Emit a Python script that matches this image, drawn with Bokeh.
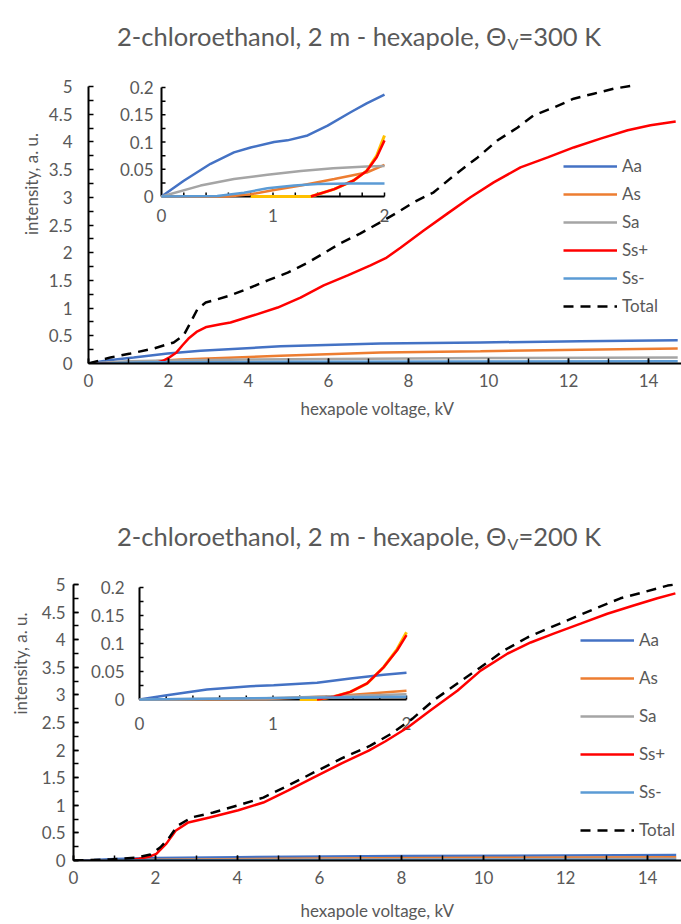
import math
from bokeh.plotting import figure
from bokeh.models import (Range1d, Legend, LegendItem, SingleIntervalTicker, FixedTicker,
                          NumeralTickFormatter, LinearAxis)
from bokeh.layouts import column
from bokeh.embed import file_html
from bokeh.resources import INLINE
from bokeh.core.properties import value

FONT = "Lato"
GRAY = "#595959"
SERIES = ["Aa", "As", "Sa", "Ss+", "Ss-", "Total"]
COLORS = ["#4472C4", "#ED7D31", "#A5A5A5", "#FF0000", "#5B9BD5", "#000000"]
GOLD = "#FFC000"

# ---------------- 300 K : main chart ----------------
top_x_Aa = [0, 0.5, 1.13, 1.98, 2.8, 4.8, 7.3, 9.8, 12.3, 14.73]
top_y_Aa = [0, 0.06, 0.11, 0.18, 0.23, 0.31, 0.36, 0.38, 0.40, 0.42]
top_x_As = [0, 0.6, 1.0, 1.5, 2.0, 2.3, 4.8, 7.3, 9.8, 12.3, 14.73]
top_y_As = [0, 0, 0.012, 0.03, 0.058, 0.07, 0.14, 0.20, 0.22, 0.25, 0.27]
top_x_Sa = [0, 1, 2, 4, 7, 10, 14.73]
top_y_Sa = [0, 0.04, 0.056, 0.07, 0.085, 0.10, 0.11]
top_x_Ssp = [0, 1.35, 1.7, 1.85, 2.0, 2.2, 2.35, 2.5, 2.7, 2.95, 3.3, 3.55, 4.13, 4.73,
             5.30, 5.88, 6.48, 7.05, 7.43, 7.80, 8.38, 8.98, 9.55, 10.13, 10.80, 11.48,
             12.13, 12.80, 13.48, 14.05, 14.68]
top_y_Ssp = [0, 0, 0.015, 0.045, 0.10, 0.20, 0.33, 0.45, 0.57, 0.66, 0.71, 0.74, 0.87, 1.01,
             1.19, 1.41, 1.59, 1.77, 1.90, 2.09, 2.40, 2.71, 3.00, 3.27, 3.54, 3.72,
             3.90, 4.06, 4.21, 4.30, 4.37]
top_x_Ssm = [0, 0.5, 0.75, 1.0, 1.2, 1.5, 2.0, 5.0, 10.0, 14.73]
top_y_Ssm = [0, 0.001, 0.007, 0.015, 0.02, 0.023, 0.024, 0.03, 0.035, 0.04]
top_x_Total = [0, 0.55, 1.05, 1.63, 2.13, 2.38, 2.55, 2.73, 2.93, 3.13, 3.55, 3.98, 4.48,
               4.98, 5.48, 5.88, 6.30, 6.80, 7.30, 7.73, 8.13, 8.63, 9.13, 9.73, 10.23,
               10.73, 11.13, 11.63, 12.13, 12.63, 13.13, 13.63]
top_y_Total = [0, 0.11, 0.18, 0.27, 0.38, 0.51, 0.74, 0.99, 1.10, 1.14, 1.23, 1.35, 1.50,
               1.64, 1.82, 1.99, 2.17, 2.35, 2.55, 2.73, 2.91, 3.09, 3.39, 3.72, 4.03,
               4.26, 4.48, 4.62, 4.78, 4.87, 4.96, 5.02]

# ---------------- 300 K : inset (0-2 kV) ----------------
ti_x_Aa = [0, 0.2, 0.44, 0.65, 0.80, 1.01, 1.13, 1.31, 1.49, 1.70, 1.84, 2.0]
ti_y_Aa = [0, 0.029, 0.060, 0.081, 0.090, 0.100, 0.103, 0.112, 0.130, 0.155, 0.171, 0.187]
ti_x_As = [0, 0.59, 0.80, 1.01, 1.25, 1.55, 1.84, 2.0]
ti_y_As = [0, 0, 0.004, 0.012, 0.020, 0.032, 0.044, 0.058]
ti_x_Sa = [0, 0.35, 0.65, 0.95, 1.25, 1.54, 1.84, 2.0]
ti_y_Sa = [0, 0.020, 0.032, 0.040, 0.047, 0.052, 0.055, 0.056]
ti_x_Ssp = [1.34, 1.55, 1.72, 1.84, 1.93, 2.0]
ti_y_Ssp = [0, 0.0135, 0.029, 0.047, 0.072, 0.103]
ti_x_Ssm = [0, 0.5, 0.74, 0.95, 1.19, 1.40, 1.70, 2.0]
ti_y_Ssm = [0, 0.001, 0.007, 0.015, 0.020, 0.023, 0.024, 0.024]
ti_x_gold = [0.8, 1.34, 1.55, 1.72, 1.84, 1.93, 2.0]
ti_y_gold = [0, 0, 0.0135, 0.029, 0.047, 0.075, 0.112]

# ---------------- 200 K : main chart ----------------
bot_x_Aa = [0, 0.5, 1.0, 2.0, 4.0, 8.0, 14.7]
bot_y_Aa = [0, 0.01, 0.025, 0.045, 0.06, 0.08, 0.10]
bot_x_As = [0, 1.0, 2.0, 5.0, 10.0, 14.7]
bot_y_As = [0, 0.001, 0.0155, 0.03, 0.05, 0.06]
bot_x_Sa = [0, 2.0, 5.0, 10.0, 14.7]
bot_y_Sa = [0, 0.0095, 0.015, 0.022, 0.03]
bot_x_Ssp = [0, 1.27, 1.6, 1.85, 2.02, 2.27, 2.49, 2.80, 3.32, 4.02, 4.63, 5.24, 5.85, 6.54,
             7.20, 7.61, 8.15, 8.71, 9.37, 9.93, 10.59, 11.15, 11.71, 12.37, 13.02, 13.66,
             14.24, 14.68]
bot_y_Ssp = [0, 0, 0.03, 0.07, 0.12, 0.31, 0.54, 0.69, 0.78, 0.91, 1.05, 1.27, 1.50, 1.76,
             1.99, 2.16, 2.41, 2.72, 3.08, 3.44, 3.75, 3.95, 4.11, 4.29, 4.47, 4.62,
             4.75, 4.84]
bot_x_Ssm = [0, 2.0, 14.7]
bot_y_Ssm = [0, 0.005, 0.01]
bot_x_Total = [0, 0.90, 1.51, 1.88, 2.12, 2.32, 2.54, 2.88, 3.41, 4.02, 4.63, 5.24, 5.85,
               6.54, 7.24, 7.76, 8.27, 8.78, 9.37, 9.93, 10.49, 11.07, 11.63, 12.20, 12.78,
               13.34, 13.90, 14.49, 14.68]
bot_y_Total = [0, 0.02, 0.05, 0.11, 0.24, 0.40, 0.63, 0.78, 0.87, 1.00, 1.14, 1.36, 1.59,
               1.85, 2.08, 2.30, 2.57, 2.90, 3.21, 3.50, 3.80, 4.04, 4.22, 4.40, 4.58,
               4.75, 4.86, 4.98, 5.0]

# ---------------- 200 K : inset (0-2 kV) ----------------
bi_x_Aa = [0, 0.205, 0.505, 0.83, 1.005, 1.33, 1.58, 1.83, 2.0]
bi_y_Aa = [0, 0.0077, 0.0179, 0.0238, 0.0256, 0.0298, 0.0375, 0.044, 0.0476]
bi_x_As = [0, 0.95, 1.45, 2.0]
bi_y_As = [0, 0.001, 0.006, 0.0155]
bi_x_Sa = [0, 0.95, 2.0]
bi_y_Sa = [0, 0.0024, 0.0095]
bi_x_Ssp = [1.33, 1.455, 1.58, 1.705, 1.83, 1.93, 2.0]
bi_y_Ssp = [0, 0.005, 0.0137, 0.0286, 0.058, 0.088, 0.115]
bi_x_Ssm = [0, 2.0]
bi_y_Ssm = [0, 0.005]
bi_x_gold = [1.2, 1.33, 1.455, 1.58, 1.705, 1.83, 1.93, 2.0]
bi_y_gold = [0, 0, 0.005, 0.0137, 0.0286, 0.058, 0.09, 0.12]

# ---------------- axis ticks / labels ----------------
main_x_interval = 2
main_y_interval = 0.5
main_y_max = 5
main_y_minor = [i * 0.25 for i in range(21)]
inset_x_ticks = [0, 1, 2]
inset_x_labels = ["0", "1", "2"]
inset_x_minor = [0.2, 0.4, 0.6, 0.8, 1.0, 1.2, 1.4, 1.6, 1.8, 2.0]
inset_y_ticks = [0, 0.05, 0.1, 0.15, 0.2]
inset_y_labels = ["0", "0.05", "0.1", "0.15", "0.2"]
inset_y_minor = [0.025, 0.05, 0.075, 0.1, 0.125, 0.15, 0.175, 0.2]

title_head = "2-chloroethanol, 2 m - hexapole, Θ"
title_sub = "V"
title_tails = ["=300 K", "=200 K"]
x_label = "hexapole voltage, kV"
y_label = "intensity, a. u."

FS = "17px"
FRAME_LEFT = 73   # both figures share the same frame left edge (column aligns them)


def style_axis(ax):
    ax.axis_line_color = "black"
    ax.axis_line_width = 2
    ax.major_tick_in = 5
    ax.major_tick_out = 0
    ax.minor_tick_in = 5
    ax.minor_tick_out = 0
    ax.major_tick_line_color = "black"
    ax.minor_tick_line_color = "black"
    ax.major_tick_line_width = 1.5
    ax.minor_tick_line_width = 1.5
    ax.major_label_text_font = FONT
    ax.major_label_text_font_size = FS
    ax.major_label_text_color = GRAY
    ax.axis_label_text_font = FONT
    ax.axis_label_text_font_size = FS
    ax.axis_label_text_color = GRAY
    ax.axis_label_text_font_style = "normal"


def chart(tail, main, inset, gold, g):
    W, H = 681, 462
    fl, fr, fb, xpx, x0 = FRAME_LEFT, g["fr"], g["fb"], g["xpx"], g["x0"]
    ypx = (fb - g["yaxis_top"]) / main_y_max
    ft = 4  # frame reaches up to the title area; the y axis itself stops at 5
    xs0 = -(x0 - fl) / xpx
    xs1 = (fr - x0) / xpx
    p = figure(width=W, height=H, output_backend="svg", toolbar_location=None,
               x_range=Range1d(xs0, xs1), y_range=Range1d(0, (fb - ft) / ypx),
               min_border_left=fl, min_border_right=W - fr,
               min_border_top=ft, min_border_bottom=H - fb,
               background_fill_color="white", border_fill_color="white")
    p.outline_line_color = None
    p.xgrid.visible = False
    p.ygrid.visible = False

    xa = p.xaxis[0]
    ya = p.yaxis[0]
    style_axis(xa)
    style_axis(ya)
    xa.ticker = SingleIntervalTicker(interval=main_x_interval, num_minor_ticks=2)
    ya.ticker = SingleIntervalTicker(interval=main_y_interval, num_minor_ticks=2)
    ya.bounds = (0, main_y_max)
    xa.bounds = (0, xs1)
    ya.formatter = NumeralTickFormatter(format="0.[0]")
    xa.axis_label = x_label
    ya.axis_label = y_label
    xa.major_label_standoff = g["xls"]
    xa.axis_label_standoff = g["xas"]
    ya.major_label_standoff = g["yls"]
    ya.axis_label_standoff = g["yas"]

    if x0 != fl:
        # the labelled axis sits at the frame edge; the drawn axis line sits at x = 0
        ya.axis_line_color = None
        ya.major_tick_line_color = None
        ya.minor_tick_line_color = None
        line_axis = LinearAxis(fixed_location=0, bounds=(0, main_y_max),
                               ticker=FixedTicker(ticks=[], minor_ticks=main_y_minor),
                               axis_line_color="black", axis_line_width=2,
                               minor_tick_in=5, minor_tick_out=0,
                               minor_tick_line_color="black", minor_tick_line_width=1.5,
                               major_tick_in=0, major_tick_out=0,
                               major_label_standoff=0, axis_label_standoff=0)
        p.add_layout(line_axis, "left")

    # inset drawn in its own sub-coordinates
    il, ir, it, ib = g["inset"]
    sub = p.subplot(x_source=Range1d(0, 2), y_source=Range1d(0, 0.2),
                    x_target=Range1d((il - x0) / xpx, (ir - x0) / xpx),
                    y_target=Range1d((fb - ib) / ypx, (fb - it) / ypx))
    sub.segment(x0=[0, 0], y0=[0, 0], x1=[2, 0], y1=[0, 0.2], line_color="black", line_width=2)
    sub.ray(x=[0] * len(inset_y_minor), y=inset_y_minor, length=4, length_units="screen",
            angle=0, line_color="black", line_width=1.5)
    sub.ray(x=inset_x_minor, y=[0] * len(inset_x_minor), length=4, length_units="screen",
            angle=math.pi / 2, line_color="black", line_width=1.5)
    sub.text(x=[0] * len(inset_y_ticks), y=inset_y_ticks, text=inset_y_labels,
             x_offset=-g["iyls"], text_align="right", text_baseline="middle",
             text_font=value(FONT), text_font_size=value(FS), text_color=GRAY)
    sub.text(x=inset_x_ticks, y=[0] * len(inset_x_ticks), text=inset_x_labels,
             y_offset=g["ixls"], text_align="center", text_baseline="middle",
             text_font=value(FONT), text_font_size=value(FS), text_color=GRAY)
    sub.line(gold[0], gold[1], line_color=GOLD, line_width=3)
    for name, color, (xs, ys) in zip(SERIES, COLORS, inset):
        sub.line(xs, ys, line_color=color, line_width=2.5)

    renderers = []
    for name, color, (xs, ys) in zip(SERIES, COLORS, main):
        r = p.line(xs, ys, line_color=color, line_width=2.5,
                   line_dash="10 7" if name == "Total" else "solid")
        renderers.append(r)

    lg = Legend(items=[LegendItem(label=value(n), renderers=[r]) for n, r in zip(SERIES, renderers)],
                location=(g["legend_x"] - fl, g["legend_y"]), orientation="vertical",
                border_line_color=None, background_fill_alpha=0,
                glyph_width=54, glyph_height=20, label_height=20, spacing=g["lsp"],
                padding=0, margin=0, label_standoff=5,
                label_text_font=FONT, label_text_font_size=FS, label_text_color=GRAY)
    p.add_layout(lg)

    # title, with a subscript V, as text inside the (tall) frame
    tx = (g["title_split"] - x0) / xpx
    ty = (fb - g["title_y"]) / ypx
    p.text(x=[tx], y=[ty], text=[title_head], text_align="right", text_baseline="middle",
           text_font=value(FONT), text_font_size=value("25.5px"), text_color=GRAY)
    p.text(x=[tx], y=[ty], text=[title_sub], x_offset=1, y_offset=8, text_align="left",
           text_baseline="middle", text_font=value(FONT), text_font_size=value("16px"),
           text_color=GRAY)
    p.text(x=[tx], y=[ty], text=[tail], x_offset=12, text_align="left", text_baseline="middle",
           text_font=value(FONT), text_font_size=value("25.5px"), text_color=GRAY)
    return p


top_main = [(top_x_Aa, top_y_Aa), (top_x_As, top_y_As), (top_x_Sa, top_y_Sa),
            (top_x_Ssp, top_y_Ssp), (top_x_Ssm, top_y_Ssm), (top_x_Total, top_y_Total)]
top_inset = [(ti_x_Aa, ti_y_Aa), (ti_x_As, ti_y_As), (ti_x_Sa, ti_y_Sa),
             (ti_x_Ssp, ti_y_Ssp), (ti_x_Ssm, ti_y_Ssm)]
bot_main = [(bot_x_Aa, bot_y_Aa), (bot_x_As, bot_y_As), (bot_x_Sa, bot_y_Sa),
            (bot_x_Ssp, bot_y_Ssp), (bot_x_Ssm, bot_y_Ssm), (bot_x_Total, bot_y_Total)]
bot_inset = [(bi_x_Aa, bi_y_Aa), (bi_x_As, bi_y_As), (bi_x_Sa, bi_y_Sa),
             (bi_x_Ssp, bi_y_Ssp), (bi_x_Ssm, bi_y_Ssm)]

g_top = dict(x0=88, fr=681, yaxis_top=86, fb=363, xpx=40.0,
             xls=10, xas=8, yls=1, yas=4,
             inset=(161, 384, 87, 196), iyls=8, ixls=19,
             legend_x=563, legend_y=47, lsp=7, title_split=506, title_y=35)
g_bot = dict(x0=73, fr=681, yaxis_top=122, fb=398, xpx=41.0,
             xls=10, xas=13, yls=8, yas=8,
             inset=(139, 406, 125, 237), iyls=15, ixls=24,
             legend_x=580, legend_y=20, lsp=17, title_split=506, title_y=73)

p_top = chart(title_tails[0], top_main, top_inset, (ti_x_gold, ti_y_gold), g_top)
p_bot = chart(title_tails[1], bot_main, bot_inset, (bi_x_gold, bi_y_gold), g_bot)

p = column(p_top, p_bot)
open("out.html", "w").write(file_html(p, INLINE))
